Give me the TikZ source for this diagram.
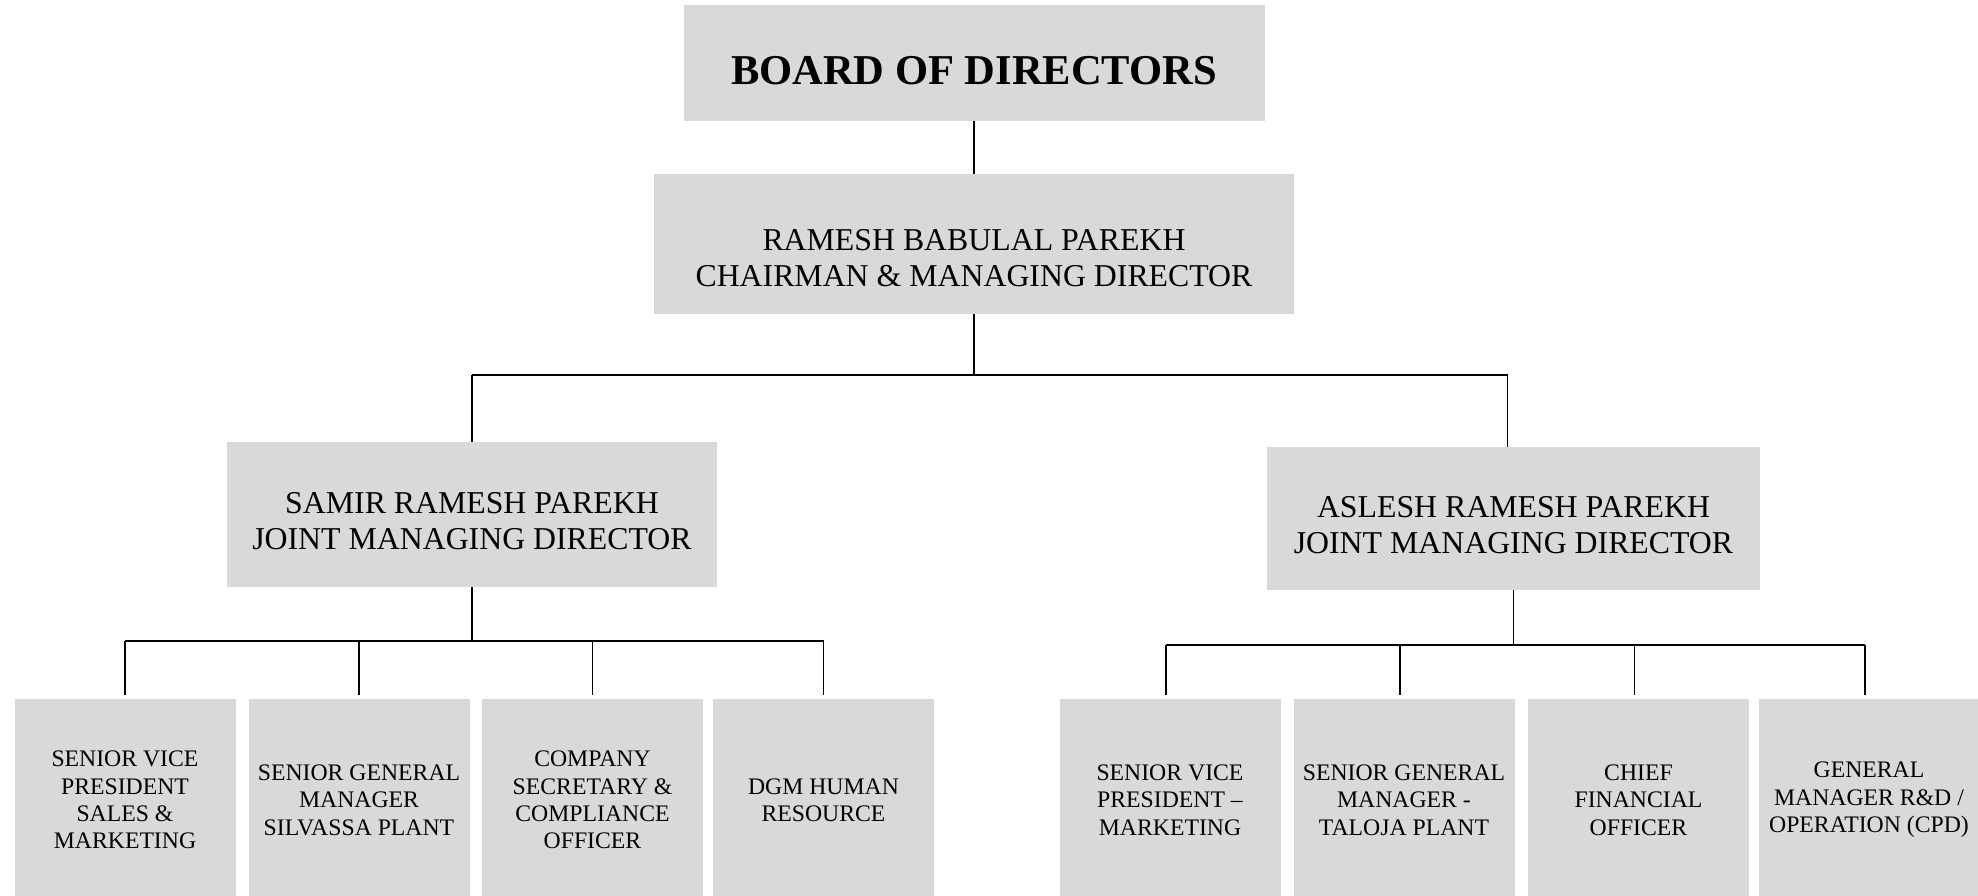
\documentclass[tikz,border=0pt]{standalone}
\usepackage{fontspec}
\setmainfont{Liberation Serif}
\definecolor{boxgray}{RGB}{217,217,217}

\begin{document}
\begin{tikzpicture}[
  post/.style={fill=boxgray, inner sep=0pt},
  staff/.style={post, minimum width=4.42cm, minimum height=4.04cm, align=center,
    font=\fontsize{13.5}{15.6}\selectfont},
  toptext/.style={font=\fontsize{24.2}{28}\selectfont\bfseries},
  midtext/.style={align=center, font=\fontsize{18.1}{20.8}\selectfont},
  link/.style={line width=0.85pt},
  bus/.style={line width=1.4pt}]
  \useasboundingbox (0,0) rectangle (39.56,-17.92);

  % Board and chairman
  \node[post, minimum width=11.62cm, minimum height=2.32cm] (board) at (19.48,-1.26) {};
  \node[toptext] (board-t) at ([yshift=-0.15cm]board.center) {BOARD OF DIRECTORS};
  \node[post, minimum width=12.8cm, minimum height=2.8cm] (cmd) at (19.48,-4.88) {};
  \node[midtext] (cmd-t) at ([yshift=-0.28cm]cmd.center) {RAMESH BABULAL PAREKH\\CHAIRMAN \& MANAGING DIRECTOR};

  % Joint managing directors
  \node[post, minimum width=9.8cm, minimum height=2.9cm] (samir) at (9.44,-10.29) {};
  \node[midtext] (samir-t) at ([yshift=-0.13cm]samir.center) {SAMIR RAMESH PAREKH\\JOINT MANAGING DIRECTOR};
  \node[post, minimum width=9.86cm, minimum height=2.86cm] (aslesh) at (30.27,-10.37) {};
  \node[midtext] (aslesh-t) at ([yshift=-0.13cm]aslesh.center) {ASLESH RAMESH PAREKH\\JOINT MANAGING DIRECTOR};

  % Staff under Samir
  \node[staff] (svpsm) at (2.5,-16) {SENIOR VICE\\PRESIDENT\\SALES \&\\MARKETING};
  \node[staff] (sgmsp) at (7.18,-16) {SENIOR GENERAL\\MANAGER\\SILVASSA PLANT};
  \node[staff] (cs) at (11.85,-16) {COMPANY\\SECRETARY \&\\COMPLIANCE\\OFFICER};
  \node[staff] (hr) at (16.47,-16) {DGM HUMAN\\RESOURCE};

  % Staff under Aslesh
  \node[staff] (svpm) at (23.4,-16) {SENIOR VICE\\PRESIDENT --\\MARKETING};
  \node[staff] (sgmtp) at (28.08,-16) {SENIOR GENERAL\\MANAGER -\\TALOJA PLANT};
  \node[staff] (cfo) at (32.77,-16) {CHIEF\\FINANCIAL\\OFFICER};
  \node[staff] (gmrd) at (37.38,-16) {GENERAL\\MANAGER R\&D /\\OPERATION (CPD)};

  % Junctions
  \coordinate (top) at (19.48,-7.5);
  \coordinate (topr) at (30.15,-7.5);
  \coordinate (left) at (9.44,-12.82);
  \coordinate (right) at (30.27,-12.9);

  % Connectors
  \draw[link] (board) -- (cmd);
  \draw[link] (cmd) -- (top);
  \draw[bus] (samir.north |- top) -- (topr);
  \draw[link] (samir.north |- top) -- (samir);
  \draw[link] (topr) -- (topr |- aslesh.north);

  \draw[link] (samir) -- (left);
  \draw[bus] (svpsm.north |- left) -- (hr.north |- left);
  \draw[link, shorten >=2pt] (svpsm.north |- left) -- (svpsm);
  \draw[link, shorten >=2pt] (sgmsp.north |- left) -- (sgmsp);
  \draw[link, shorten >=2pt] (cs.north |- left) -- (cs);
  \draw[link, shorten >=2pt] (hr.north |- left) -- (hr);

  \draw[link] (aslesh) -- (right);
  \draw[bus] ([xshift=-0.08cm]svpm.north |- right) -- ([xshift=-0.08cm]gmrd.north |- right);
  \draw[link, shorten >=2pt] ([xshift=-0.08cm]svpm.north |- right) -- ([xshift=-0.08cm]svpm.north);
  \draw[link, shorten >=2pt] ([xshift=-0.08cm]sgmtp.north |- right) -- ([xshift=-0.08cm]sgmtp.north);
  \draw[link, shorten >=2pt] ([xshift=-0.08cm]cfo.north |- right) -- ([xshift=-0.08cm]cfo.north);
  \draw[link, shorten >=2pt] ([xshift=-0.08cm]gmrd.north |- right) -- ([xshift=-0.08cm]gmrd.north);
\end{tikzpicture}
\end{document}
